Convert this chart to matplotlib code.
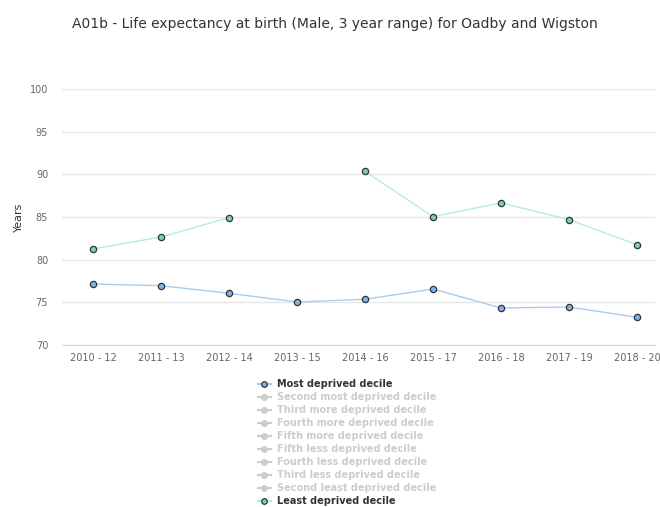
import numpy as np
import matplotlib
matplotlib.use("Agg")
import matplotlib.pyplot as plt
from matplotlib.lines import Line2D

periods = ["2010 - 12", "2011 - 13", "2012 - 14", "2013 - 15", "2014 - 16",
           "2015 - 17", "2016 - 18", "2017 - 19", "2018 - 20"]
most_deprived = [77.15, 76.95, 76.06, 75.04, 75.36, 76.56, 74.34, 74.45, 73.25]
least_deprived = [81.25, 82.66, 84.93, np.nan, 90.35, 85.04, 86.65, 84.7, 81.75]

legend_labels = ["Most deprived decile", "Second most deprived decile",
                 "Third more deprived decile", "Fourth more deprived decile",
                 "Fifth more deprived decile", "Fifth less deprived decile",
                 "Fourth less deprived decile", "Third less deprived decile",
                 "Second least deprived decile", "Least deprived decile"]
yticks = [70, 75, 80, 85, 90, 95, 100]

blue_line = "#a9cdf2"
blue_marker = "#7cb5ec"
teal_line = "#b4ece3"
teal_marker = "#76d1c2"
edge = "#333333"

fig = plt.figure(figsize=(6.6, 5.07), dpi=100)
ax = fig.add_axes([0.094, 0.3195, 0.898, 0.505])

x = np.arange(len(periods))
ax.plot(x, most_deprived, color=blue_line, lw=1, marker="o", ms=4.5,
        mfc=blue_marker, mec=edge, mew=0.9, zorder=3)
ax.plot(x, least_deprived, color=teal_line, lw=1, marker="o", ms=4.5,
        mfc=teal_marker, mec=edge, mew=0.9, zorder=3)

ax.set_xlim(-0.456, 8.26)
ax.set_ylim(70, 100)
ax.set_yticks(yticks)
ax.set_xticks(x)
ax.set_xticklabels(periods)
ax.tick_params(axis="both", length=0, labelsize=7, colors="#666666", pad=6)
ax.tick_params(axis="y", pad=10)
ax.grid(axis="y", color="#e6e6e6", lw=1)
ax.set_axisbelow(True)
for s in ["top", "right", "left"]:
    ax.spines[s].set_visible(False)
ax.spines["bottom"].set_color("#ccd6eb")
ax.set_ylabel("Years", fontsize=8, color="#333333", labelpad=4)

fig.suptitle("A01b - Life expectancy at birth (Male, 3 year range) for Oadby and Wigston",
             x=0.508, y=0.966, fontsize=10, color="#333333")

handles = []
for i, lab in enumerate(legend_labels):
    if i == 0:
        h = Line2D([], [], color=blue_line, marker="o", ms=4, mfc=blue_marker, mec=edge, mew=0.9)
    elif i == len(legend_labels) - 1:
        h = Line2D([], [], color=teal_line, marker="o", ms=4, mfc=teal_marker, mec=edge, mew=0.9)
    else:
        h = Line2D([], [], color="#cccccc", marker="o", ms=4, mfc="#cccccc", mec="#cccccc")
    handles.append(h)

leg = fig.legend(handles, legend_labels, loc="upper left", bbox_to_anchor=(0.383, 0.262),
                 frameon=False, fontsize=7, handlelength=1.4, handletextpad=0.6,
                 labelspacing=0.31, borderpad=0)
for i, t in enumerate(leg.get_texts()):
    t.set_fontweight("bold")
    if i == 0 or i == len(legend_labels) - 1:
        t.set_color("#333333")
    else:
        t.set_color("#cccccc")

fig.savefig("out.png", dpi=100)
